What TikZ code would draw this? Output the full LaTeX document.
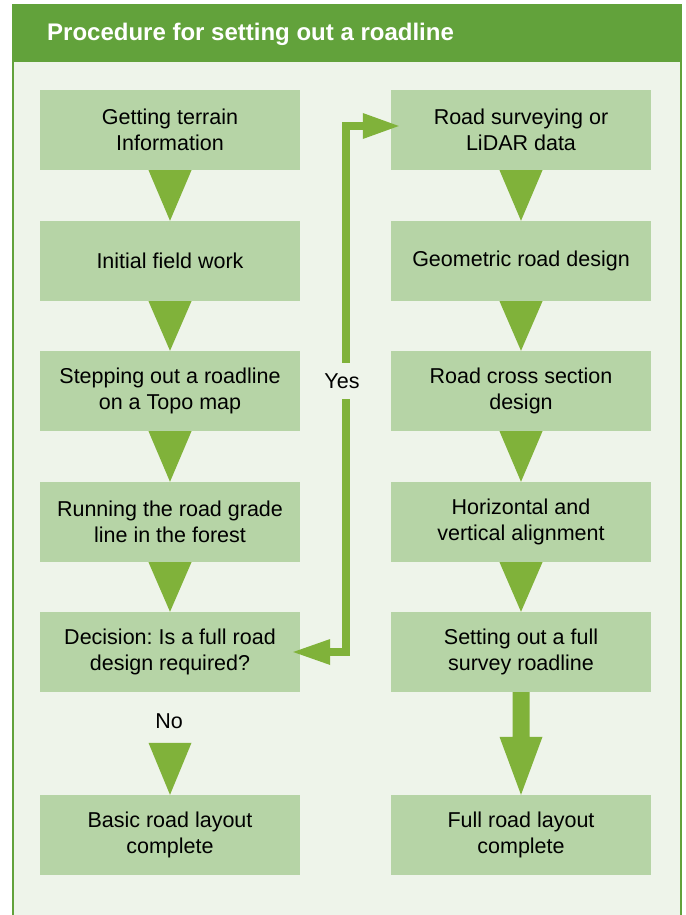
\documentclass[tikz,border=0pt]{standalone}
\usepackage{fontspec}
\setmainfont{Liberation Sans}
\frenchspacing
\usetikzlibrary{calc}
\definecolor{hdr}{HTML}{62A23B}
\definecolor{bgc}{HTML}{EEF4EA}
\definecolor{boxc}{HTML}{B6D4A6}
\definecolor{arrc}{HTML}{80B23A}
\tikzset{
  stepbox/.style={fill=boxc, minimum width=260pt, minimum height=80pt, inner sep=0pt,
    align=center, font=\fontsize{21.5}{26}\selectfont},
  tri/.style={fill=arrc},
  yesline/.style={draw=arrc, line width=8pt, miter limit=10},
  lbl/.style={font=\fontsize{21.5}{24}\selectfont, inner sep=0pt}
}
\begin{document}
\begin{tikzpicture}[x=1pt,y=-1pt]
\useasboundingbox (0,0) rectangle (685,915);
\fill[white] (0,0) rectangle (685,915);
% frame
\fill[bgc] (13,4) rectangle (681,915);
\fill[hdr] (12,4) rectangle (682,62);
\draw[hdr, line width=2pt] (13,62) -- (13,915) (681,62) -- (681,915);
\node[anchor=west, text=white, font=\fontsize{24}{26}\selectfont\bfseries, inner sep=0pt] (title) at (47,34) {Procedure for setting out a roadline};
% left column
\node[stepbox] (l1) at (170,130) {Getting terrain\\Information};
\node[stepbox] (l2) at (170,261) {Initial field work};
\node[stepbox] (l3) at (170,391) {Stepping out a roadline\\on a Topo map};
\node[stepbox] (l4) at (170,522) {Running the road grade\\line in the forest};
\node[stepbox] (l5) at (170,652) {Decision: Is a full road\\design required?};
\node[stepbox] (l6) at (170,835) {Basic road layout\\complete};
% right column
\node[stepbox] (r1) at (521,130) {Road surveying or\\LiDAR data};
\node[stepbox] (r2) at (521,261) {Geometric road design};
\node[stepbox] (r3) at (521,391) {Road cross section\\design};
\node[stepbox] (r4) at (521,522) {Horizontal and\\vertical alignment};
\node[stepbox] (r5) at (521,652) {Setting out a full\\survey roadline};
\node[stepbox] (r6) at (521,835) {Full road layout\\complete};
% triangles
\foreach \a/\b in {l1/l2,l2/l3,l3/l4,l4/l5,r1/r2,r2/r3,r3/r4,r4/r5}{
  \fill[tri] ($(\a.south)+(-21.5,0)$) -- ($(\a.south)+(21.5,0)$) -- (\b.north) -- cycle;
}
% No
\node[lbl] (no) at (169,721) {No};
\fill[tri] ($(l6.north)+(-21.5,-52)$) -- ($(l6.north)+(21.5,-52)$) -- (l6.north) -- cycle;
% thick arrow right
\fill[tri] ($(r5.south)+(-8.5,0)$) -- ($(r5.south)+(8.5,0)$) -- ($(r6.north)+(8.5,-58)$)
  -- ($(r6.north)+(21.5,-58)$) -- (r6.north) -- ($(r6.north)+(-21.5,-58)$) -- ($(r6.north)+(-8.5,-58)$) -- cycle;
% Yes connector
\coordinate (yb) at (346,652);
\coordinate (yt) at (346,126);
\draw[yesline] ($(l5.east)+(30,0)$) -- (yb) -- (yt) -- ($(r1.west)+(-28,-4)$);
\fill[tri] ($(r1.west)+(-28,-17)$) -- ($(r1.west)+(8,-4)$) -- ($(r1.west)+(-28,9)$) -- cycle;
\fill[tri] ($(l5.east)+(30,-13)$) -- ($(l5.east)+(-7,0)$) -- ($(l5.east)+(30,13)$) -- cycle;
\node[lbl, fill=bgc, minimum height=36pt, minimum width=38pt] (yes) at (342,381) {Yes};
\end{tikzpicture}
\end{document}
